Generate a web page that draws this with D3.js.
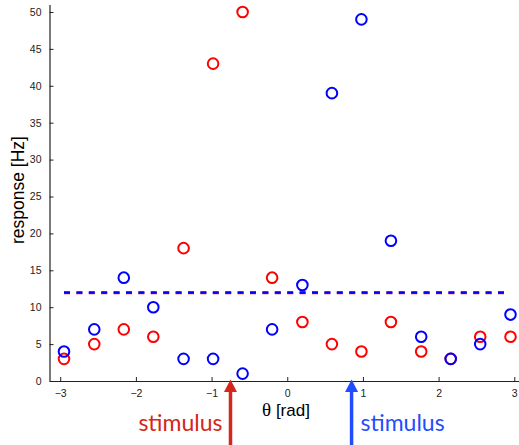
<!DOCTYPE html>
<html>
<head>
<meta charset="utf-8">
<script src="https://cdn.jsdelivr.net/npm/d3@7"></script>
<style>
  body { margin: 0; background: #fff; }
  svg { display: block; }
</style>
</head>
<body>
<svg width="519" height="445"></svg>
<script>
// preferred directions of the 16 sample points (rad)
var theta = [-2.95, -2.55, -2.16, -1.77, -1.37, -0.98, -0.59, -0.20,
              0.20,  0.59,  0.98,  1.37,  1.77,  2.16,  2.55,  2.95];
// responses for the red stimulus and the blue stimulus (Hz)
var redResp  = [3, 5, 7, 6, 18, 43, 50, 14, 8, 5, 4, 8, 4, 3, 6, 6];
var blueResp = [4, 7, 14, 10, 3, 3, 1, 7, 13, 39, 49, 19, 6, 3, 5, 9];
// mean response level (dashed lines)
var redMean = 11.93, blueMean = 12;
var xTicks = [-3, -2, -1, 0, 1, 2, 3];
var yTicks = [0, 5, 10, 15, 20, 25, 30, 35, 40, 45, 50];
// stimulus arrows
var stimTheta = [-0.75, 0.85];
var stimLabels = ["stimulus", "stimulus"];

var svg = d3.select("svg");

var x = d3.scaleLinear().domain([-Math.PI, Math.PI]).range([49.5, 525]);
var y = d3.scaleLinear().domain([0, 51]).range([381, 4.6]);

var g = svg.append("g");

// axes
var yAxis = g.append("g")
    .attr("transform", "translate(" + x(-Math.PI) + ",0)")
    .call(d3.axisLeft(y).tickValues(yTicks).tickSize(-4).tickPadding(8).tickSizeOuter(0));
var xAxis = g.append("g")
    .attr("transform", "translate(0," + y(0) + ")")
    .call(d3.axisBottom(x).tickValues(xTicks).tickSize(-4).tickPadding(9).tickSizeOuter(0)
        .tickFormat(function(d) { return d < 0 ? "\u2212" + (-d) : d; }));

[yAxis, xAxis].forEach(function(a) {
    a.selectAll("path").attr("stroke", "#222").attr("stroke-width", 1.2);
    a.selectAll("line").attr("stroke", "#222");
    a.selectAll("text")
        .attr("font-family", "Liberation Sans, Arial, sans-serif")
        .attr("font-size", 10.5)
        .attr("fill", "#222");
});

// dashed mean lines
var line = d3.line().x(function(d) { return x(d[0]); }).y(function(d) { return y(d[1]); });
[[redMean, "#ff1a1a"], [blueMean, "#0000ff"]].forEach(function(m) {
    g.append("path")
        .attr("d", line([[theta[0], m[0]], [theta[theta.length - 1] - 0.06, m[0]]]))
        .attr("fill", "none")
        .attr("stroke", m[1])
        .attr("stroke-width", 2.6)
        .attr("stroke-dasharray", "6,6.4");
});

// data circles
function drawSeries(vals, color) {
    g.append("g").selectAll("circle")
        .data(vals)
        .enter().append("circle")
        .attr("cx", function(d, i) { return x(theta[i]); })
        .attr("cy", function(d) { return y(d); })
        .attr("r", 5.3)
        .attr("fill", "none")
        .attr("stroke", color)
        .attr("stroke-width", 2);
}
drawSeries(redResp, "#ff0000");
drawSeries(blueResp, "#0000ff");

// axis titles
g.append("text")
    .attr("transform", "translate(24,190) rotate(-90)")
    .attr("text-anchor", "middle")
    .attr("font-family", "Liberation Sans, Arial, sans-serif")
    .attr("font-size", 17.5)
    .attr("fill", "#000")
    .text("response [Hz]");

var xt = g.append("text")
    .attr("x", 286)
    .attr("y", 416)
    .attr("text-anchor", "middle")
    .attr("font-family", "Liberation Sans, Arial, sans-serif")
    .attr("font-size", 17)
    .attr("fill", "#000");
xt.append("tspan").attr("font-family", "Liberation Serif, Times New Roman, serif").attr("font-size", 19).text("\u03b8");
xt.append("tspan").text(" [rad]");

// stimulus arrows
var arrowColors = ["#d4261a", "#1f4dff"];
stimTheta.forEach(function(t, i) {
    var cx = x(t);
    var c = arrowColors[i];
    g.append("line")
        .attr("x1", cx).attr("x2", cx)
        .attr("y1", 445).attr("y2", 390)
        .attr("stroke", c)
        .attr("stroke-width", 3.5);
    g.append("path")
        .attr("d", "M" + cx + ",379.5L" + (cx - 6.5) + ",392L" + (cx + 6.5) + ",392Z")
        .attr("fill", c);
    g.append("text")
        .attr("x", i === 0 ? cx - 8 : cx + 9)
        .attr("y", 431)
        .attr("text-anchor", i === 0 ? "end" : "start")
        .attr("font-family", "Lato, Open Sans, sans-serif")
        .attr("font-size", 23)
        .attr("fill", c)
        .text(stimLabels[i]);
});
</script>
</body>
</html>
